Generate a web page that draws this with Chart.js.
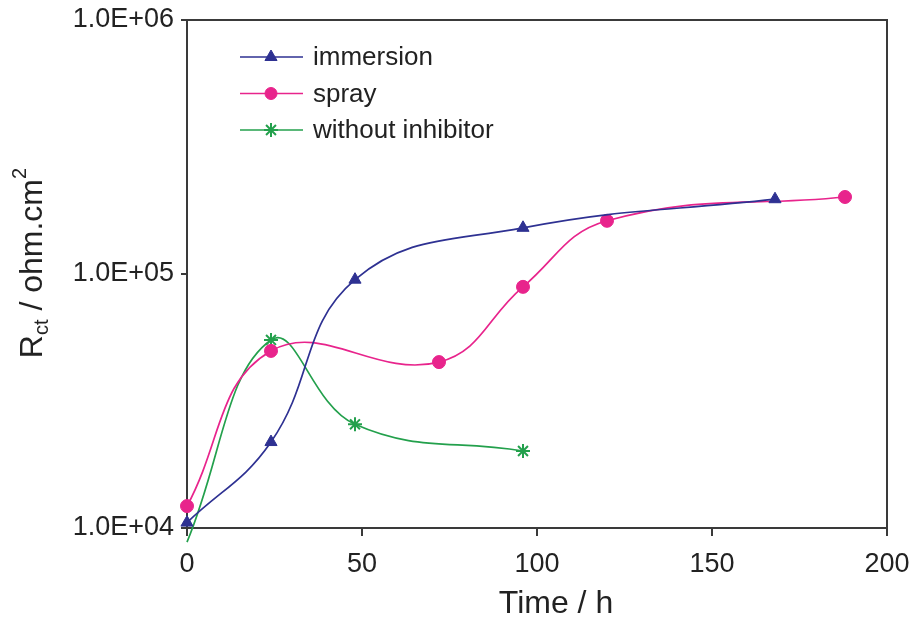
<!DOCTYPE html>
<html>
<head>
<meta charset="utf-8">
<script src="https://cdn.jsdelivr.net/npm/chart.js@4.4.1/dist/chart.umd.min.js"></script>
<style>
    html, body { margin: 0; padding: 0; background: #fff; }
    #wrap { width: 919px; height: 621px; }
</style>
</head>
<body>
<div id="wrap"><canvas id="rct"></canvas></div>
<script>
// Data
const immersionTime = [0, 24, 48, 96, 168];
const immersionRct = [10500, 21800, 95000, 152000, 197000];

const sprayTime = [0, 24, 72, 96, 120, 188];
const sprayRct = [12200, 49800, 45000, 89000, 162000, 201000];

const blankTime = [0, 24, 48, 96];
const blankRct = [8800, 55000, 25600, 20100];

const xTicks = [0, 50, 100, 150, 200];
const yTicks = [1e4, 1e5, 1e6];
const yTickLabels = ['1.0E+04', '1.0E+05', '1.0E+06'];

const FONT = "'Liberation Sans', Arial, sans-serif";
const AXIS_COLOR = '#3a3a3a';

function pairs(xs, ys) {
    return xs.map((x, i) => ({ x: x, y: ys[i] }));
}

// Frame around plot + legend + axis titles (y title has sub/superscript)
const decorations = {
    id: 'decorations',
    afterDraw(chart) {
        const ctx = chart.ctx;
        const a = chart.chartArea;
        ctx.save();
        ctx.strokeStyle = AXIS_COLOR;
        ctx.lineWidth = 2;
        ctx.beginPath();
        ctx.moveTo(a.left, a.top);
        ctx.lineTo(a.right, a.top);
        ctx.lineTo(a.right, a.bottom);
        ctx.stroke();

        // legend
        chart.data.datasets.forEach((ds, i) => {
            const y = 57 + i * 36.5;
            ctx.strokeStyle = ds.borderColor;
            ctx.lineWidth = 1.7;
            ctx.beginPath();
            ctx.moveTo(240, y);
            ctx.lineTo(303, y);
            ctx.stroke();
            ctx.fillStyle = ds.pointBackgroundColor;
            ctx.strokeStyle = ds.pointBorderColor;
            ctx.lineWidth = ds.pointBorderWidth;
            Chart.helpers.drawPoint(ctx, {
                pointStyle: ds.pointStyle, radius: ds.legendRadius, rotation: 0, borderWidth: ds.pointBorderWidth
            }, 271, y);
            ctx.fillStyle = '#222';
            ctx.font = '26px ' + FONT;
            ctx.textBaseline = 'middle';
            ctx.textAlign = 'left';
            ctx.fillText(ds.label, 313, y + 1);
        });

        // x axis title
        ctx.fillStyle = '#222';
        ctx.font = '32px ' + FONT;
        ctx.textAlign = 'center';
        ctx.textBaseline = 'middle';
        ctx.fillText('Time / h', 556, 604);

        // y axis title: R_ct / ohm.cm^2
        ctx.translate(33, 263);
        ctx.rotate(-Math.PI / 2);
        ctx.textBaseline = 'middle';
        ctx.textAlign = 'left';
        const big = '32px ' + FONT;
        const small = '20px ' + FONT;
        const parts = [
            { t: 'R', f: big, dy: 0 },
            { t: 'ct', f: small, dy: 9 },
            { t: ' / ohm.cm', f: big, dy: 0 },
            { t: '2', f: small, dy: -13 }
        ];
        let total = 0;
        parts.forEach(p => { ctx.font = p.f; total += ctx.measureText(p.t).width; });
        let x = -total / 2;
        parts.forEach(p => {
            ctx.font = p.f;
            ctx.fillText(p.t, x, p.dy);
            x += ctx.measureText(p.t).width;
        });
        ctx.restore();
    }
};

new Chart(document.getElementById('rct'), {
    type: 'line',
    data: {
        datasets: [
            {
                label: 'immersion',
                data: pairs(immersionTime, immersionRct),
                borderColor: '#2e3192',
                pointBackgroundColor: '#2e3192',
                pointBorderColor: '#2e3192',
                pointStyle: 'triangle',
                pointRadius: 7,
                legendRadius: 7,
                pointBorderWidth: 1,
                clip: false
            },
            {
                label: 'spray',
                data: pairs(sprayTime, sprayRct),
                borderColor: '#e8248c',
                pointBackgroundColor: '#e8248c',
                pointBorderColor: '#e8248c',
                pointStyle: 'circle',
                pointRadius: 6.5,
                legendRadius: 6,
                pointBorderWidth: 1,
                clip: false
            },
            {
                label: 'without inhibitor',
                data: pairs(blankTime, blankRct),
                borderColor: '#23a04c',
                pointBackgroundColor: '#23a04c',
                pointBorderColor: '#23a04c',
                pointStyle: 'star',
                pointRadius: [0, 7, 7, 7],
                legendRadius: 7,
                pointBorderWidth: 2,
                clip: false
            }
        ]
    },
    options: {
        responsive: true,
        maintainAspectRatio: false,
        animation: false,
        layout: { padding: { top: 20, right: 32, left: 0, bottom: 0 } },
        elements: {
            line: { borderWidth: 1.7, tension: 0.42, fill: false },
            point: { hoverRadius: 7 }
        },
        plugins: {
            legend: { display: false },
            tooltip: { enabled: false }
        },
        scales: {
            x: {
                type: 'linear',
                min: 0,
                max: 200,
                afterBuildTicks: s => { s.ticks = xTicks.map(v => ({ value: v })); },
                afterFit: s => { s.height = 93; s.paddingLeft = 0; s.paddingRight = 0; },
                border: { display: true, color: AXIS_COLOR, width: 2 },
                grid: { drawOnChartArea: false, drawTicks: true, tickLength: 8, color: AXIS_COLOR, lineWidth: 2 },
                ticks: { color: '#222', font: { size: 27, family: FONT }, padding: 12, maxRotation: 0 }
            },
            y: {
                type: 'logarithmic',
                min: 1e4,
                max: 1e6,
                afterBuildTicks: s => { s.ticks = yTicks.map(v => ({ value: v })); },
                afterFit: s => { s.width = 187; s.paddingTop = 0; s.paddingBottom = 0; },
                border: { display: true, color: AXIS_COLOR, width: 2 },
                grid: { drawOnChartArea: false, drawTicks: true, tickLength: 6, color: AXIS_COLOR, lineWidth: 2 },
                ticks: {
                    color: '#222',
                    font: { size: 27, family: FONT },
                    padding: 7,
                    callback: v => {
                        const k = yTicks.indexOf(v);
                        return k >= 0 ? yTickLabels[k] : '';
                    }
                }
            }
        }
    },
    plugins: [decorations]
});
</script>
</body>
</html>
